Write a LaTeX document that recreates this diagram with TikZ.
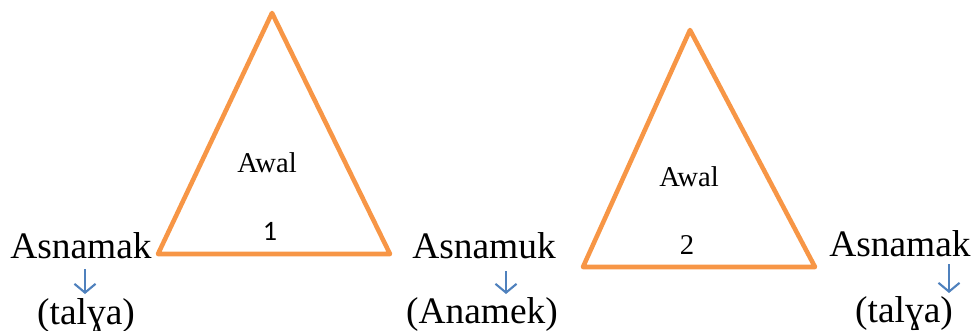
\documentclass[tikz,border=0pt]{standalone}
\usepackage{fontspec}
\setmainfont{Liberation Serif}
\newfontfamily\wordfont{Liberation Serif}
\newfontfamily\numfont{Carlito}
\usetikzlibrary{arrows.meta}

\definecolor{triorange}{HTML}{F79646}
\definecolor{arrblue}{HTML}{4F81BD}

\begin{document}
\begin{tikzpicture}[
  x=0.02cm, y=-0.02cm,
  tri/.style={draw=triorange, line width=2.6pt, line join=round},
  word/.style={inner sep=0pt, anchor=base, font=\wordfont\fontsize{21.3}{24}\selectfont},
  label in/.style={inner sep=0pt, anchor=base, font=\wordfont\fontsize{16.3}{19}\selectfont},
  arr/.style={draw=arrblue, line width=1.2pt, -{Straight Barb[length=5pt, width=12pt, line width=1.2pt]}},
]
\useasboundingbox (0,0) rectangle (971,331);

% triangles
\coordinate (t1top) at (272,13);
\coordinate (t1l)   at (158,254);
\coordinate (t1r)   at (390,254);
\coordinate (t2top) at (690,30);
\coordinate (t2l)   at (583,267);
\coordinate (t2r)   at (815,267);
\draw[tri] (t1top) -- (t1r) -- (t1l) -- cycle;
\draw[tri] (t2top) -- (t2r) -- (t2l) -- cycle;

\node[label in] (awal1) at (267,173) {Awal};
\node[label in, font=\numfont\fontsize{16}{19}\selectfont] (one) at (270,240) {1};
\node[label in] (awal2) at (689,187) {Awal};
\node[label in] (two)   at (687,255) {2};

% words
\node[word] (w1)  at (81,258)  {Asnamak};
\node[word] (g1)  at (86,324)  {(talɣa)};
\node[word] (w2)  at (484,258) {Asnamuk};
\node[word] (g2)  at (482,323) {(Anamek)};
\node[word] (w3)  at (900,256) {Asnamak};
\node[word] (g3)  at (904,322) {(talɣa)};

% arrows
\coordinate (a1s) at (85,269);  \coordinate (a1e) at (85,294);
\coordinate (a2s) at (506,271); \coordinate (a2e) at (506,294);
\coordinate (a3s) at (949,264); \coordinate (a3e) at (949,293);
\draw[arr] (a1s) -- (a1e);
\draw[arr] (a2s) -- (a2e);
\draw[arr] (a3s) -- (a3e);
\end{tikzpicture}
\end{document}
